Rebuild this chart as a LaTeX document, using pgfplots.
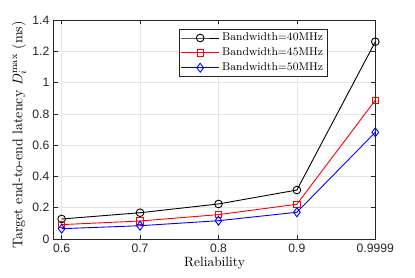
\documentclass[border=0pt]{standalone}
\usepackage{fontspec}
\newfontfamily\sansfont{Liberation Sans}
\usepackage{pgfplots}
\pgfplotsset{compat=1.18}
\definecolor{axgray}{gray}{0.15}
\begin{document}
\begin{tikzpicture}
\begin{axis}[
  name=ax,
  scale only axis,
  width=251pt, height=171pt,
  xmin=-0.1, xmax=4, ymin=0, ymax=1.4,
  xtick={0,1,2,3,4},
  xticklabels={0.6,0.7,0.8,0.9,0.9999},
  ytick={0,0.2,0.4,0.6,0.8,1,1.2,1.4},
  yticklabels={0,0.2,0.4,0.6,0.8,1,1.2,1.4},
  tick label style={font=\sansfont\fontsize{9.5}{11}\selectfont, text=axgray},
  /pgf/number format/assume math mode=true,
  tick align=inside,
  major tick length=3pt,
  axis line style={axgray, line width=0.5pt},
  tick style={axgray, line width=0.5pt},
  grid=major,
  major grid style={gray!20, line width=0.5pt},
  xlabel={Reliability},
  ylabel={Target end-to-end latency $D_i^{\max}$ (ms)},
  xlabel style={font=\fontsize{10.5}{12}\selectfont, yshift=3pt},
  ylabel style={font=\fontsize{10.9}{13}\selectfont, at={(ticklabel cs:0.475)}, yshift=-2pt},
  legend style={at={(0.39,0.959)}, anchor=north west, font=\fontsize{8.8}{10.5}\selectfont, draw=axgray, line width=0.5pt, inner sep=1pt, row sep=0pt},
  legend cell align=left,
  legend image code/.code={\draw[mark repeat=2,mark phase=2] plot coordinates {(0cm,0cm) (0.52cm,0cm) (1.04cm,0cm)};},
  every axis plot/.append style={line width=0.7pt, mark size=3pt},
]
\addplot[black, mark=o] coordinates {(0,0.128) (1,0.168) (2,0.224) (3,0.313) (4,1.261)};
\addlegendentry{Bandwidth=40MHz}
\addplot[red, mark=square, mark size=2.5pt] coordinates {(0,0.092) (1,0.115) (2,0.156) (3,0.222) (4,0.887)};
\addlegendentry{Bandwidth=45MHz}
\addplot[blue, mark=diamond, mark size=3.5pt] coordinates {(0,0.066) (1,0.085) (2,0.117) (3,0.171) (4,0.682)};
\addlegendentry{Bandwidth=50MHz}
\end{axis}
\path[use as bounding box] ([shift={(-42pt,-29.7pt)}]ax.south west) rectangle ([shift={(31pt,15.6pt)}]ax.north east);
\end{tikzpicture}
\end{document}
